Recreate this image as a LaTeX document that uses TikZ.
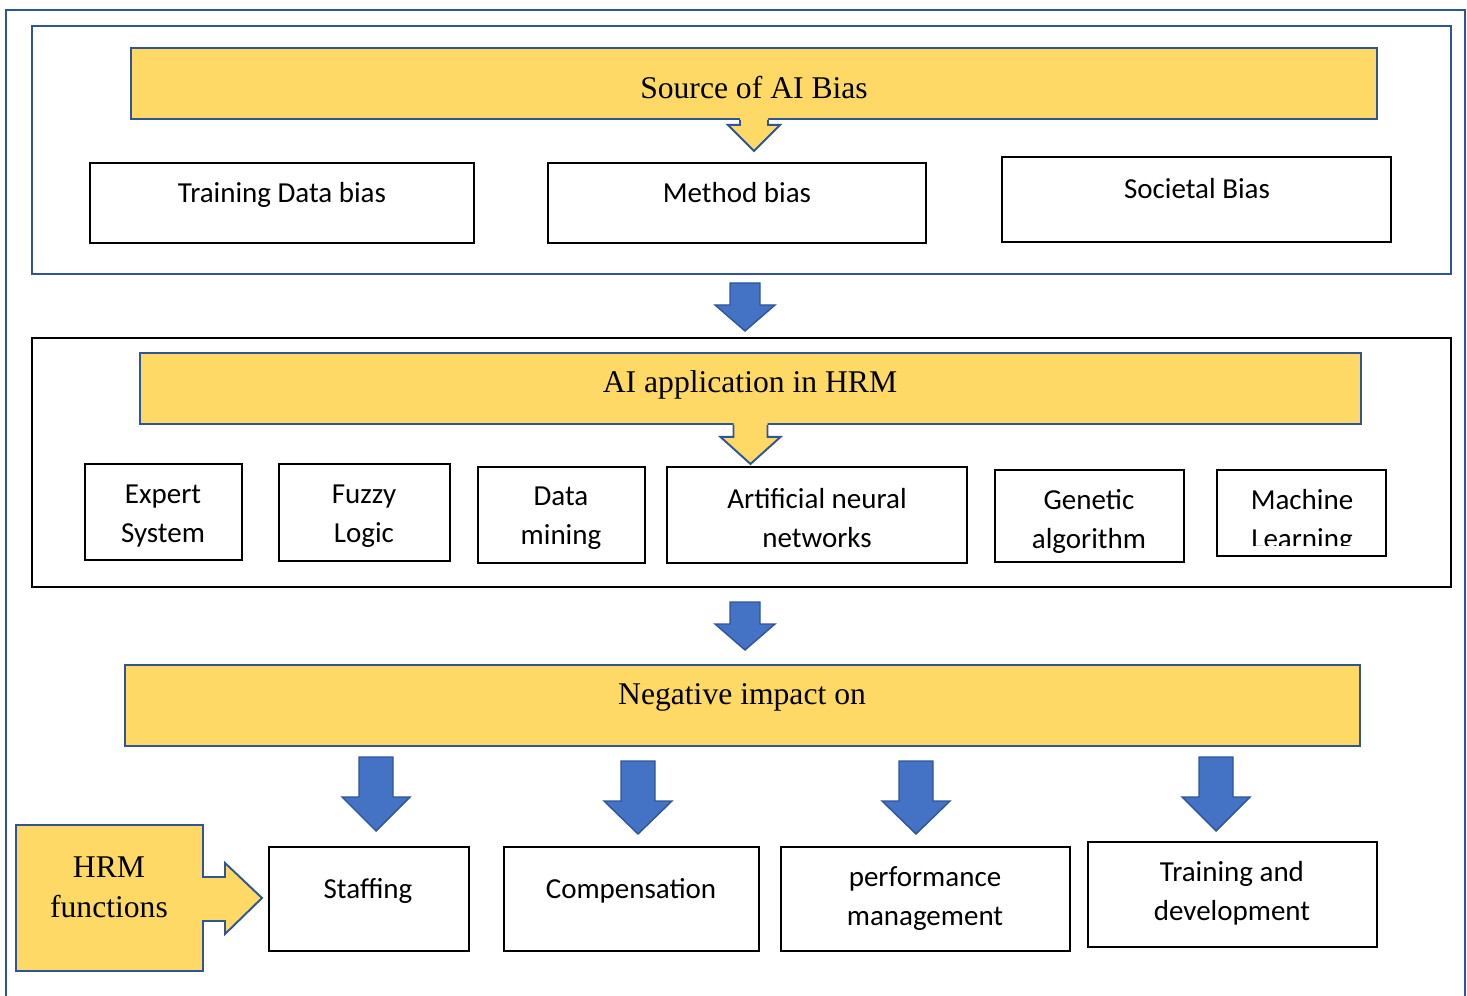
\documentclass[tikz,border=0pt]{standalone}
\usepackage{fontspec}
\setmainfont{Liberation Serif}
\newfontfamily\calfont{Carlito}
\definecolor{GoldFill}{HTML}{FFD966}
\definecolor{BlueEdge}{HTML}{2F5597}
\definecolor{BlueFill}{HTML}{4472C4}
\usetikzlibrary{positioning,fit}

% block arrow pointing down: x, top, stem half, head half, wing y, tip y
\newcommand\downblk[6]{%
  \draw[blk] (#1-#3,#2) -- (#1+#3,#2) -- (#1+#3,#5) -- (#1+#4,#5) -- (#1,#6)
    -- (#1-#4,#5) -- (#1-#3,#5) -- cycle;}
% notch under a title bar: node, stem half, head half, stem length, head length
\newcommand\callout[5]{%
  \fill[GoldFill] ([shift={(-#2,-2)}]#1.south) -- ++(0,#4+2) -- ++(#2-#3,0)
    -- ++(#3,#5) -- ++(#3,-#5) -- ++(#2-#3,0) -- ++(0,-#4-2) -- cycle;
  \draw[BlueEdge,line width=1.1pt] ([shift={(-#2,0)}]#1.south) -- ++(0,#4)
    -- ++(#2-#3,0) -- ++(#3,#5) -- ++(#3,-#5) -- ++(#2-#3,0) -- ++(0,-#4);}

\begin{document}
\begin{tikzpicture}[x=0.02cm,y=-0.02cm,
    box/.style={draw=black,line width=1.1pt,inner sep=0pt},
    frame/.style={draw=BlueEdge,line width=1.2pt,inner sep=0pt},
    title/.style={draw=BlueEdge,fill=GoldFill,line width=1.1pt,inner sep=0pt},
    head/.style={font=\fontsize{18}{22.8}\selectfont,align=center},
    lab/.style={font=\calfont\fontsize{16.5}{22.2}\selectfont,align=center},
    blk/.style={draw=BlueEdge,fill=BlueFill,line width=0.8pt}]
  \useasboundingbox (0,0) rectangle (1467,996);

  % outer frame, open at the bottom
  \draw[BlueEdge,line width=1.2pt] (6,996) -- (6,10) -- (1465,10) -- (1465,996);

  % sources
  \node[frame,fit={(32,26) (1451,274)}] (srcframe) {};
  \node[title,fit={(131,48) (1377,119)}] (src) {};
  \callout{src}{14}{26}{5}{26}
  \node[head] (srclab) at (754,88) {Source of AI Bias};
  \node[box,fit={(90,163) (474,243)}] (train) {};
  \node[box,fit={(548,163) (926,243)}] (method) {};
  \node[box,fit={(1002,157) (1391,242)}] (soc) {};
  \node[lab] (trainlab) at (282,195) {Training Data bias};
  \node[lab] (methodlab) at (737,193) {Method bias};
  \node[lab] (soclab) at (1197,189) {Societal Bias};

  \downblk{745}{283}{15}{30}{305}{331}

  % applications
  \node[box,fit={(32,338) (1451,587)}] (appframe) {};
  \node[title,fit={(140,353) (1361,424)}] (app) {};
  \callout{app}{17}{30}{12}{27}
  \node[head] (applab) at (750,385) {AI application in HRM};
  \node[box,fit={(85,464) (242,560)}] (expert) {};
  \node[box,fit={(279,464) (450,561)}] (fuzzy) {};
  \node[box,fit={(478,467) (645,563)}] (mining) {};
  \node[box,fit={(667,467) (967,563)}] (ann) {};
  \node[box,fit={(995,470) (1184,562)}] (genetic) {};
  \node[box,fit={(1217,470) (1386,556)}] (ml) {};
  \node[lab] (expertlab) at (163,516) {Expert\\System};
  \node[lab] (fuzzylab) at (364,516) {Fuzzy\\Logic};
  \node[lab] (mininglab) at (561,518) {Data\\mining};
  \node[lab] (annlab) at (817,518) {Artificial neural\\networks};
  \node[lab] (geneticlab) at (1089,521) {Genetic\\algorithm};
  \begin{scope}
    \clip (1217,470) rectangle (1386,545);
    \node[lab] (mllab) at (1302,521) {Machine\\Learning};
  \end{scope}

  \downblk{745}{602}{15}{30}{624}{650}

  % impact
  \node[title,fit={(125,665) (1360,746)}] (neg) {};
  \node[head] (neglab) at (742,697) {Negative impact on};

  \downblk{376}{757}{17}{34}{797}{831}
  \downblk{638}{761}{17}{34}{801}{834}
  \downblk{916}{761}{17}{34}{801}{834}
  \downblk{1216}{757}{17}{34}{797}{831}

  \draw[title] (16,825) -- (203,825) -- (203,877) -- (225,877) -- (225,863)
    -- (262,898) -- (225,934) -- (225,921) -- (203,921) -- (203,971)
    -- (16,971) -- cycle;
  \node[head] (hrmlab) at (109,887) {HRM\\functions};

  \node[box,fit={(269,847) (469,951)}] (staff) {};
  \node[box,fit={(504,847) (759,951)}] (comp) {};
  \node[box,fit={(781,847) (1070,951)}] (perf) {};
  \node[box,fit={(1088,842) (1377,947)}] (dev) {};
  \node[lab] (stafflab) at (368,891) {Staffing};
  \node[lab] (complab) at (631,891) {Compensation};
  \node[lab] (perflab) at (925,899) {performance\\management};
  \node[lab] (devlab) at (1232,893) {Training and\\development};
\end{tikzpicture}
\end{document}
